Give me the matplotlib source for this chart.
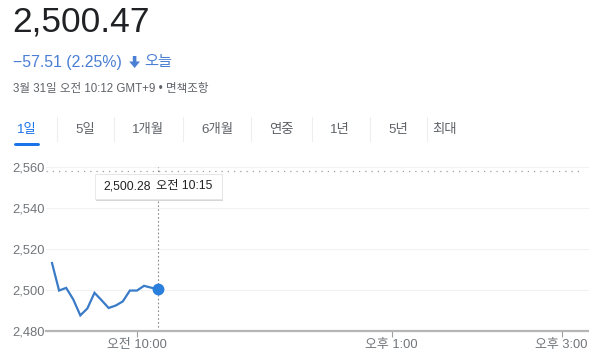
import matplotlib.pyplot as plt
from matplotlib.patches import FancyBboxPatch, Rectangle, Polygon

plt.rcParams['font.family'] = ['Liberation Sans', 'Noto Sans CJK KR', 'DejaVu Sans']

W, H = 589, 363

# data
price_now = "2,500.47"
change_text = "\u221257.51 (2.25%)"
date_text = "3월 31일 오전 10:12 GMT+9 • 면책조항"
tabs = ["1일", "5일", "1개월", "6개월", "연중", "1년", "5년", "최대"]
times = ["09:00", "09:05", "09:10", "09:15", "09:20", "09:25", "09:30", "09:35",
         "09:40", "09:45", "09:50", "09:55", "10:00", "10:05", "10:10", "10:15"]
values = [2513.1, 2499.7, 2501.0, 2495.4, 2487.6, 2491.0, 2498.6, 2495.0,
          2491.2, 2492.4, 2494.4, 2499.7, 2499.7, 2502.0, 2501.1, 2500.28]
prev_close = 2557.98
y_ticks = [2480, 2500, 2520, 2540, 2560]
x_ticks = [10, 13, 15]
x_labels = ["오전 10:00", "오후 1:00", "오후 3:00"]

GRAY = '#70757a'
BLUE = '#1a73e8'
DARK = '#202124'
DOWN = '#4a7fd3'


def hours(t):
    h, m = t.split(':')
    return int(h) + int(m) / 60


def fx(px):
    return px / W


def fy(py):
    return 1 - py / H


xs = [hours(t) for t in times]

fig = plt.figure(figsize=(W / 100, H / 100), dpi=100)

# header texts
fig.text(fx(12), fy(22), price_now, fontsize=25.5, color=DARK, va='center')
fig.text(fx(13), fy(62), change_text, fontsize=11.4, color=DOWN, va='center')
# down arrow icon
arrow = [(132.8, 56), (136.4, 56), (136.4, 61.5), (140, 61.5), (134.6, 68),
         (129.2, 61.5), (132.8, 61.5)]
fig.add_artist(Polygon([(fx(x), fy(y)) for x, y in arrow], closed=True,
                       transform=fig.transFigure, color=DOWN, lw=0))
fig.text(fx(144), fy(62), "오늘", fontsize=11, color=DOWN, va='center')
fig.text(fx(13), fy(89), date_text, fontsize=8.3, color='#5f6368', va='center')

# range tabs
tab_x = [27, 85, 148, 217, 281, 340, 398, 445]
sep_x = [57, 114, 183, 251, 312, 370, 427]
for i, (t, x) in enumerate(zip(tabs, tab_x)):
    fig.text(fx(x), fy(130), t, fontsize=9.6, ha='center', va='center',
             color=BLUE if i == 0 else '#5f6368')
for x in sep_x:
    fig.add_artist(plt.Line2D([fx(x), fx(x)], [fy(117), fy(141)], color='#eeeeee',
                              lw=0.8, transform=fig.transFigure))
fig.add_artist(FancyBboxPatch((fx(14), fy(146)), fx(26), (3 / H),
                              boxstyle='round,pad=0,rounding_size=0.004',
                              transform=fig.transFigure, color=BLUE, lw=0))

# chart
ax = fig.add_axes([fx(46), fy(331), 1 - fx(46), (331 - 166.7) / H])
ax.set_xlim(9 - 6 / 85, 15 + (589 - 561.7) / 85)
ax.set_ylim(2480, 2560)
for v in y_ticks[1:]:
    ax.axhline(v, color='#f2f2f2', lw=0.8, zorder=0)
ax.axhline(prev_close, color='#9e9e9e', lw=0.9, ls=(0, (1, 4)), xmax=0.985, zorder=1)
ax.axvline(xs[-1], color='#8a8a8a', lw=0.8, ls=(0, (1.5, 2)), zorder=1)
ax.plot(xs, values, color='#3a7bc8', lw=1.6, zorder=3, solid_joinstyle='miter')
ax.plot(xs[-1], values[-1], 'o', color='#2a7fdc', markersize=7.5, zorder=4)

for s in ['top', 'right', 'left']:
    ax.spines[s].set_visible(False)
ax.spines['bottom'].set_color('#b5b5b5')
ax.spines['bottom'].set_linewidth(1.6)

ax.set_yticks(y_ticks)
ax.set_yticklabels([f"{v:,}" for v in y_ticks])
ax.tick_params(axis='y', length=0, pad=24, labelsize=9.3, labelcolor=GRAY)
for lab in ax.get_yticklabels():
    lab.set_ha('left')
ax.set_xticks(x_ticks)
ax.set_xticklabels(x_labels)
ax.tick_params(axis='x', length=4, width=0.8, color='#9e9e9e', pad=1.5,
               labelsize=9.3, labelcolor=GRAY)

# tooltip
fig.add_artist(Rectangle((fx(96), fy(200.5)), fx(127), 26 / H, transform=fig.transFigure,
                         facecolor='#d6d6d6', edgecolor='none', zorder=5))
fig.add_artist(Rectangle((fx(95), fy(199)), fx(127), 25 / H, transform=fig.transFigure,
                         facecolor='white', edgecolor='#e6e6e6', lw=0.6, zorder=6))
fig.text(fx(103), fy(186.5), f"{values[-1]:,.2f}", fontsize=8.8, color='#222222',
         va='center', zorder=7)
fig.text(fx(156), fy(186.5), "오전 " + times[-1], fontsize=8.8, color='#222222',
         va='center', zorder=7)

fig.savefig('out.png', dpi=100)
